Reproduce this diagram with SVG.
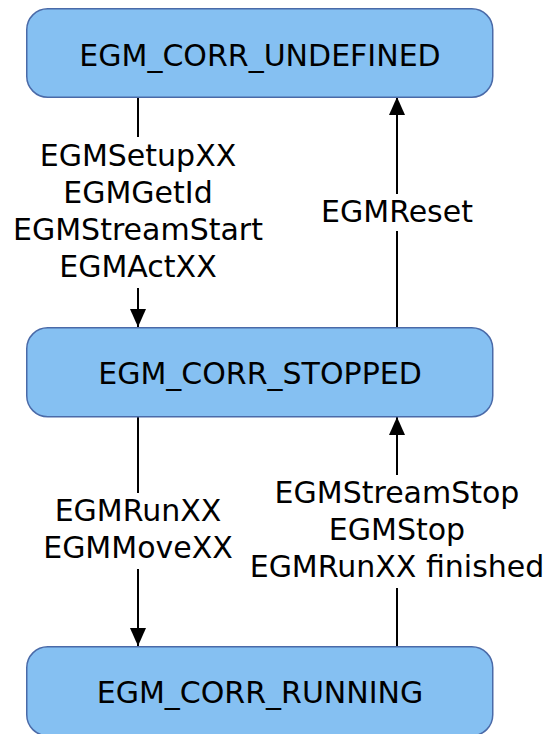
<svg xmlns="http://www.w3.org/2000/svg" width="544" height="734" viewBox="0 0 544 734">
  <defs>
    <style>
      .node rect { fill: #85c0f2; stroke: #4a6aa8; stroke-width: 1.5; }
      .node text { font-family: "DejaVu Sans", sans-serif; font-size: 30px; fill: #000; text-anchor: middle; }
      .lbl { font-family: "DejaVu Sans", sans-serif; font-size: 30px; fill: #000; text-anchor: middle; }
      .conn line { stroke: #000; stroke-width: 2; fill: none; }
    </style>
    <marker id="arrow" viewBox="0 0 18 16" refX="18" refY="8" markerWidth="18" markerHeight="16" markerUnits="userSpaceOnUse" orient="auto">
      <path d="M0,0 L18,8 L0,16 Z" fill="#000"/>
    </marker>
  </defs>
  <rect width="544" height="734" fill="#fff"/>

  <g id="connectors" class="conn">
    <!-- UNDEFINED -> STOPPED -->
    <line x1="138" y1="97" x2="138" y2="137"/>
    <line x1="138" y1="288" x2="138" y2="327" marker-end="url(#arrow)"/>
    <!-- STOPPED -> UNDEFINED -->
    <line x1="397" y1="327" x2="397" y2="231"/>
    <line x1="397" y1="194" x2="397" y2="97" marker-end="url(#arrow)"/>
    <!-- STOPPED -> RUNNING -->
    <line x1="138" y1="417" x2="138" y2="493"/>
    <line x1="138" y1="569" x2="138" y2="646" marker-end="url(#arrow)"/>
    <!-- RUNNING -> STOPPED -->
    <line x1="397" y1="646" x2="397" y2="588"/>
    <line x1="397" y1="475" x2="397" y2="417" marker-end="url(#arrow)"/>
  </g>

  <g id="labels">
    <text class="lbl" x="138" y="166">EGMSetupXX</text>
    <text class="lbl" x="138" y="203">EGMGetId</text>
    <text class="lbl" x="138" y="240">EGMStreamStart</text>
    <text class="lbl" x="138" y="277">EGMActXX</text>
    <text class="lbl" x="397" y="222">EGMReset</text>
    <text class="lbl" x="138" y="521">EGMRunXX</text>
    <text class="lbl" x="138" y="558">EGMMoveXX</text>
    <text class="lbl" x="397" y="503">EGMStreamStop</text>
    <text class="lbl" x="397" y="540">EGMStop</text>
    <text class="lbl" x="397" y="577">EGMRunXX finished</text>
  </g>

  <g id="node-undefined" class="node">
    <rect x="26.75" y="8.75" width="466" height="88.5" rx="21" ry="21"/>
    <text x="260" y="66">EGM_CORR_UNDEFINED</text>
  </g>
  <g id="node-stopped" class="node">
    <rect x="26.75" y="327.75" width="466" height="89" rx="21" ry="21"/>
    <text x="260" y="384">EGM_CORR_STOPPED</text>
  </g>
  <g id="node-running" class="node">
    <rect x="26.75" y="646.75" width="466" height="89" rx="21" ry="21"/>
    <text x="260" y="703">EGM_CORR_RUNNING</text>
  </g>
</svg>
